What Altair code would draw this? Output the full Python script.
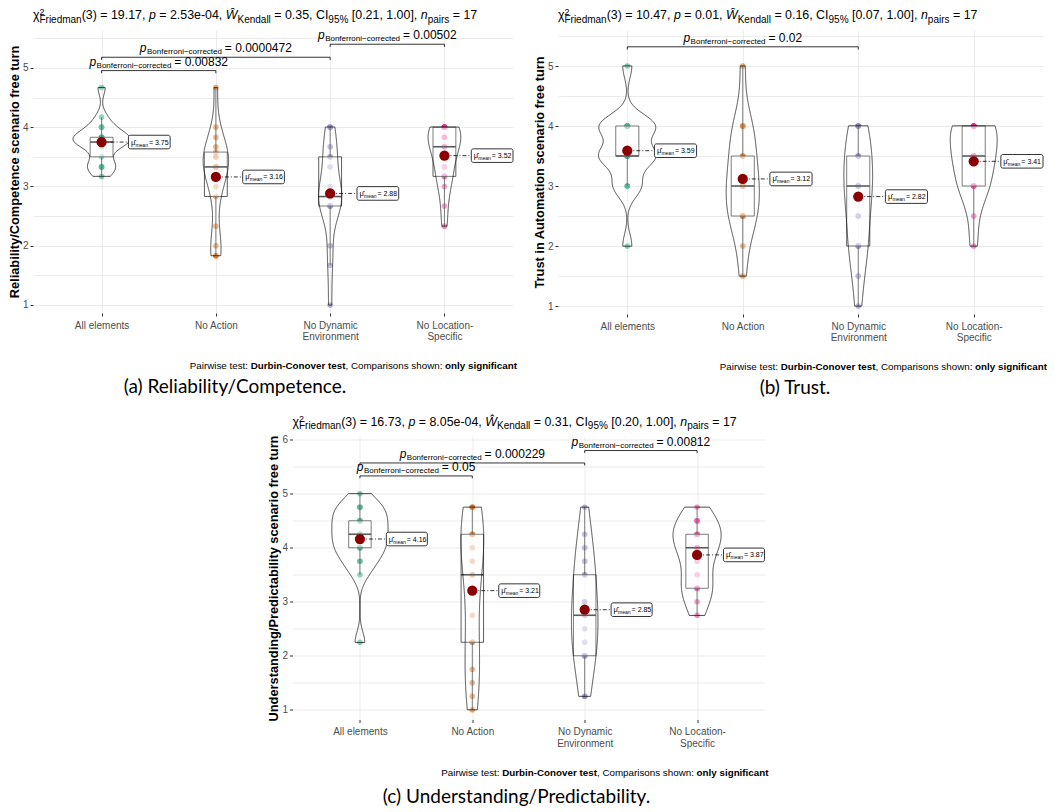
import json
import altair as alt
import pandas as pd

FONT = "Liberation Sans"
CAP_FONT = "Lato"

CATS = ["All elements", "No Action", "No Dynamic\nEnvironment", "No Location-\nSpecific"]
COLORS = ["#1B9E77", "#D95F02", "#7570B3", "#E7298A"]
SUBTXT = "Bonferroni\u2212corrected"

# ---- panel (a) Reliability/Competence ----
A_ALL = [3.17, 3.33, 3.33, 3.33, 3.5, 3.67, 3.75, 3.75, 3.75, 3.83, 3.83, 3.83, 3.83, 4.0, 4.0, 4.17, 4.67]
A_ACTION = [1.83, 1.83, 2.0, 2.33, 2.83, 3.0, 3.17, 3.33, 3.33, 3.33, 3.5, 3.5, 3.58, 3.67, 3.83, 4.0, 4.67]
A_DYN = [1.0, 1.67, 2.0, 2.67, 2.67, 2.67, 2.83, 2.83, 2.83, 2.83, 3.0, 3.33, 3.5, 3.5, 3.67, 4.0, 4.0]
A_LOC = [2.33, 2.67, 3.0, 3.17, 3.17, 3.33, 3.5, 3.67, 3.67, 3.67, 3.83, 3.83, 4.0, 4.0, 4.0, 4.0, 4.0]
A_STATS = ["19.17", "2.53e-04", "0.35", "[0.21, 1.00]", "17"]
A_PAIRS = [(1, 2), (1, 3), (3, 4)]
A_PVALS = ["0.00832", "0.0000472", "0.00502"]
A_BRY = [4.955, 5.18, 5.40]

# ---- panel (b) Trust ----
B_ALL = [2.0, 3.0, 3.0, 3.0, 3.5, 3.5, 3.5, 3.5, 3.5, 3.5, 4.0, 4.0, 4.0, 4.0, 4.0, 4.0, 5.0]
B_ACTION = [1.5, 2.0, 2.5, 2.5, 2.5, 2.5, 3.0, 3.0, 3.0, 3.0, 3.5, 3.5, 3.5, 4.0, 4.0, 4.0, 5.0]
B_DYN = [1.0, 1.5, 2.0, 2.0, 2.0, 2.5, 2.5, 3.0, 3.0, 3.0, 3.0, 3.5, 3.5, 3.5, 4.0, 4.0, 4.0]
B_LOC = [2.0, 2.5, 3.0, 3.0, 3.0, 3.0, 3.5, 3.5, 3.5, 3.5, 3.5, 4.0, 4.0, 4.0, 4.0, 4.0, 4.0]
B_STATS = ["10.47", "0.01", "0.16", "[0.07, 1.00]", "17"]
B_PAIRS = [(1, 3)]
B_PVALS = ["0.02"]
B_BRY = [5.32]

# ---- panel (c) Understanding/Predictability ----
C_ALL = [2.25, 3.5, 3.75, 3.75, 4.0, 4.0, 4.0, 4.25, 4.25, 4.25, 4.5, 4.5, 4.5, 4.75, 4.75, 4.75, 5.0]
C_ACTION = [1.0, 1.25, 1.5, 1.75, 2.25, 2.25, 2.75, 3.5, 3.5, 3.75, 4.0, 4.25, 4.25, 4.25, 4.75, 4.75, 4.75]
C_DYN = [1.25, 1.25, 2.0, 2.0, 2.0, 2.25, 2.5, 2.75, 2.75, 3.0, 3.0, 3.5, 3.5, 3.75, 4.0, 4.25, 4.75]
C_LOC = [2.75, 3.0, 3.25, 3.25, 3.25, 3.5, 3.75, 4.0, 4.0, 4.0, 4.25, 4.25, 4.25, 4.5, 4.5, 4.5, 4.75]
C_STATS = ["16.73", "8.05e-04", "0.31", "[0.20, 1.00]", "17"]
C_PAIRS = [(1, 2), (1, 3), (3, 4)]
C_PVALS = ["0.05", "0.000229", "0.00812"]
C_BRY = [5.33, 5.57, 5.80]

# ---- approximate Arial / Liberation Sans advance widths (per 1000 em) ----
REG = {" ": 278, "!": 278, "%": 889, "(": 333, ")": 333, ",": 278, "-": 333, ".": 278, "/": 278,
       ":": 278, "=": 584, "[": 278, "]": 278, "\u2212": 584, "\u03c7": 520, "\u0174": 944}
for d in "0123456789":
    REG[d] = 556
REG.update(dict(zip("ABCDEFGHIJKLMNOPQRSTUVWXYZ",
                    [667, 667, 722, 722, 667, 611, 778, 722, 278, 500, 667, 556, 833, 722, 778, 667, 778, 722, 667, 611, 722, 667, 944, 667, 667, 611])))
REG.update(dict(zip("abcdefghijklmnopqrstuvwxyz",
                    [556, 556, 500, 556, 556, 278, 556, 556, 222, 222, 500, 222, 833, 556, 556, 556, 556, 333, 500, 278, 556, 500, 722, 500, 500, 500])))
BOLD = dict(REG)
BOLD.update(dict(zip("abcdefghijklmnopqrstuvwxyz",
                     [556, 611, 556, 611, 556, 333, 611, 611, 278, 278, 556, 278, 889, 611, 611, 611, 611, 389, 556, 333, 611, 556, 778, 556, 556, 500])))
BOLD.update({"B": 722, ":": 333})


def tw(s, size, bold=False):
    t = BOLD if bold else REG
    return sum(t.get(ch, 556) for ch in s) * size / 1000.0


def seg_rows(segs, x0, y0):
    rows = []
    x = x0
    for text, size, style, dy, adv in segs:
        lead = len(text) - len(text.lstrip(" "))
        rows.append(dict(t=text.strip(), px=x + tw(" " * lead, size, style == "b"),
                         py=y0 + dy, sz=size, st=style))
        if adv:
            x += tw(text, size, style == "b")
    return rows


def panel(vals, ytitle, stats, pairs, pvals, bry, width, height, ydom, ytop, caption, cap_x, cap_dy):
    rows = []
    for i, vs in enumerate(vals):
        for v in vs:
            rows.append({"idx": i + 1, "v": v})
    df = pd.DataFrame(rows)
    pxu = width / 4.2
    pyu = height / (ydom[1] - ydom[0])

    cats_js = json.dumps(CATS)
    xs = alt.Scale(domain=[0.4, 4.6], nice=False, zero=False)
    ys = alt.Scale(domain=ydom, nice=False, zero=False)
    xaxis = alt.Axis(values=[1, 2, 3, 4], title=None,
                     labelExpr=f"split({cats_js}[datum.value - 1], '\\n')",
                     labelPadding=4, labelLineHeight=11.5)
    yvals = [1 + 0.5 * k for k in range(int(round((ytop - 1) / 0.5)) + 1)]
    yaxis = alt.Axis(values=yvals, title=ytitle,
                     labelExpr="datum.value % 1 === 0 ? format(datum.value, 'd') : ''",
                     tickColor=alt.condition("datum.value % 1 !== 0", alt.value("transparent"), alt.value("#333333")),
                     titlePadding=1)

    def XQ(f):
        return alt.X(f"{f}:Q", scale=xs, axis=xaxis)

    def YQ(f):
        return alt.Y(f"{f}:Q", scale=ys, axis=yaxis)

    base = alt.Chart(df)

    points = base.mark_circle(size=32, opacity=0.55).encode(
        x=XQ("idx"), y=YQ("v"),
        color=alt.Color("idx:N", scale=alt.Scale(domain=[1, 2, 3, 4], range=COLORS), legend=None))

    wk = base.transform_joinaggregate(q1="q1(v)", q3="q3(v)", groupby=["idx"]).transform_filter(
        "datum.v >= datum.q1 - 1.5*(datum.q3 - datum.q1) && datum.v <= datum.q3 + 1.5*(datum.q3 - datum.q1)"
    ).transform_aggregate(lo="min(v)", hi="max(v)", bq1="min(q1)", bq3="min(q3)", groupby=["idx"])
    w1 = wk.mark_rule(color="#333333", strokeWidth=0.8).encode(x=XQ("idx"), y=YQ("lo"), y2=alt.Y2("bq1"))
    w2 = wk.mark_rule(color="#333333", strokeWidth=0.8).encode(x=XQ("idx"), y=YQ("bq3"), y2=alt.Y2("hi"))

    bx = base.transform_aggregate(q1="q1(v)", q3="q3(v)", med="median(v)", groupby=["idx"]).transform_calculate(
        bl="datum.idx - 0.1", br="datum.idx + 0.1")
    box = bx.mark_rect(fill="white", fillOpacity=0.5, stroke="#333333", strokeWidth=0.8).encode(
        x=XQ("bl"), x2=alt.X2("br"), y=YQ("q1"), y2=alt.Y2("q3"))
    med = bx.mark_rule(color="#333333", strokeWidth=1.6).encode(x=XQ("bl"), x2=alt.X2("br"), y=YQ("med"))

    vio = base.transform_calculate(rep="[0, 1]").transform_flatten(["rep"]).transform_joinaggregate(
        vmin="min(v)", vmax="max(v)", groupby=["idx"]
    ).transform_density(
        "v", groupby=["idx", "vmin", "vmax"], extent=[0.5, 6.0], steps=661, as_=["yy", "dens"]
    ).transform_filter(
        "datum.yy >= datum.vmin - 0.004 && datum.yy <= datum.vmax + 0.004"
    ).transform_joinaggregate(dmax="max(dens)").transform_calculate(
        xl="datum.idx - 0.25*datum.dens/datum.dmax", xr="datum.idx + 0.25*datum.dens/datum.dmax"
    ).mark_area(orient="horizontal", fill="white", fillOpacity=0.2, stroke="black", strokeWidth=0.7).encode(
        y=YQ("yy"), x=XQ("xl"), x2=alt.X2("xr"), detail="idx:N")

    hh = 6.8 / pyu
    mn = base.transform_aggregate(m="mean(v)", groupby=["idx"]).transform_calculate(
        cx="datum.idx + 0.235", rx="datum.idx + 0.6",
        ylo=f"datum.m - {hh}", yhi=f"datum.m + {hh}",
        lab="'= ' + format(datum.m, '.2f')")
    conn = mn.mark_rule(color="black", strokeWidth=0.8, strokeDash=[4, 2, 1, 2]).encode(
        x=XQ("idx"), x2=alt.X2("cx"), y=YQ("m"))
    mpt = mn.mark_circle(size=105, color="#8B0000", opacity=1).encode(x=XQ("idx"), y=YQ("m"))
    lbox = mn.mark_rect(fill="white", stroke="black", strokeWidth=0.8, cornerRadius=2).encode(
        x=XQ("cx"), x2=alt.X2("rx"), y=YQ("ylo"), y2=alt.Y2("yhi"))
    mu = mn.mark_text(align="left", baseline="middle", font=FONT, fontSize=7.5, dx=2.5, dy=0.5,
                      text="\u03bc\u0302", color="black").encode(x=XQ("cx"), y=YQ("m"))
    musub = mn.mark_text(align="left", baseline="middle", font=FONT, fontSize=5, dx=7, dy=2.5,
                         text="mean", color="black").encode(x=XQ("cx"), y=YQ("m"))
    mueq = mn.mark_text(align="left", baseline="middle", font=FONT, fontSize=7, dx=20.5, dy=0.5,
                        color="black").encode(x=XQ("cx"), y=YQ("m"), text="lab:N")

    # significance brackets
    tip = 0.045
    brows = []
    for (a, b), pv, y in zip(pairs, pvals, bry):
        xm = (a + b) / 2.0
        wp = tw("p", 12)
        ws = tw(SUBTXT, 8)
        we = tw(" = " + pv, 12)
        start = -(wp + ws + we) / 2.0
        brows.append(dict(xa=a, xb=b, y=y, yt=y - tip, eq="= " + pv,
                          xp=xm + start / pxu,
                          xs=xm + (start + wp + 0.5) / pxu,
                          xe=xm + (start + wp + ws + tw(" ", 12)) / pxu))
    bdf = pd.DataFrame(brows)
    bc = alt.Chart(bdf)
    bh = bc.mark_rule(color="black", strokeWidth=0.8).encode(x=XQ("xa"), x2=alt.X2("xb"), y=YQ("y"))
    bl = bc.mark_rule(color="black", strokeWidth=0.8).encode(x=XQ("xa"), y=YQ("yt"), y2=alt.Y2("y"))
    br = bc.mark_rule(color="black", strokeWidth=0.8).encode(x=XQ("xb"), y=YQ("yt"), y2=alt.Y2("y"))
    btp = bc.mark_text(align="left", baseline="alphabetic", font=FONT, fontStyle="italic", fontSize=12,
                       dy=-5, text="p", color="black").encode(x=XQ("xp"), y=YQ("y"))
    bts = bc.mark_text(align="left", baseline="alphabetic", font=FONT, fontSize=8,
                       dy=-3, text=SUBTXT, color="black").encode(x=XQ("xs"), y=YQ("y"))
    bte = bc.mark_text(align="left", baseline="alphabetic", font=FONT, fontSize=12,
                       dy=-5, color="black").encode(x=XQ("xe"), y=YQ("y"), text="eq:N")

    # title / footer / caption texts (pixel positions relative to the plot area)
    chi, p, w, ci, n = stats
    M, S = 12.4, 10
    tsegs = [("\u03c7", M, "n", 0, True), ("2", 9, "n", -4, False), ("Friedman", S, "n", 3.5, True),
             ("(3) = " + chi + ", ", M, "n", 0, True), ("p", M, "i", 0, True),
             (" = " + p + ", ", M, "n", 0, True), ("\u0174", M, "i", 0, True), ("Kendall", S, "n", 3.5, True),
             (" = " + w + ", CI", M, "n", 0, True), ("95%", S, "n", 3.5, True),
             (" " + ci + ", ", M, "n", 0, True), ("n", M, "i", 0, True), ("pairs", S, "n", 3.5, True),
             (" = " + n, M, "n", 0, True)]
    trows = seg_rows(tsegs, 0, -11)
    F = 9.8
    fsegs = [("Pairwise test: ", F, "n", 0, True), ("Durbin-Conover test", F, "b", 0, True),
             (", Comparisons shown: ", F, "n", 0, True), ("only significant", F, "b", 0, True)]
    ftot = sum(tw(s, sz, st == "b") for s, sz, st, _, _ in fsegs)
    trows += seg_rows(fsegs, width + 4 - ftot, height + 56)
    trows.append(dict(t=caption, px=cap_x, py=height + cap_dy, sz=19, st="cap"))
    tdf = pd.DataFrame(trows)

    def tlayer(style, **mk):
        return alt.Chart(tdf).transform_filter(alt.datum.st == style).mark_text(
            baseline="alphabetic", color="black", **mk).encode(
            x=alt.X("px:Q", scale=None, axis=None), y=alt.Y("py:Q", scale=None, axis=None),
            text="t:N", size=alt.Size("sz:Q", scale=None, legend=None))

    tn = tlayer("n", align="left", font=FONT)
    ti = tlayer("i", align="left", font=FONT, fontStyle="italic")
    tb = tlayer("b", align="left", font=FONT, fontWeight="bold")
    tc = tlayer("cap", align="center", font=CAP_FONT)

    return alt.layer(points, w1, w2, box, med, vio, conn, mpt, lbox, mu, musub, mueq,
                     bh, bl, br, btp, bts, bte, tn, ti, tb, tc).properties(width=width, height=height)


pa = panel([A_ALL, A_ACTION, A_DYN, A_LOC], "Reliability/Competence scenario free turn", A_STATS,
           A_PAIRS, A_PVALS, A_BRY, 480, 283, [0.865, 5.64], 5.5, "(a) Reliability/Competence.", 202, 80)
pb = panel([B_ALL, B_ACTION, B_DYN, B_LOC], "Trust in Automation scenario free turn", B_STATS,
           B_PAIRS, B_PVALS, B_BRY, 485, 284, [0.867, 5.6], 5.5, "(b) Trust.", 237, 80)
pc = panel([C_ALL, C_ACTION, C_DYN, C_LOC], "Understanding/Predictability scenario free turn", C_STATS,
           C_PAIRS, C_PVALS, C_BRY, 472, 283, [0.82, 6.06], 6.0, "(c) Understanding/Predictability.", 224, 83)

spacer = alt.Chart(pd.DataFrame({"s": [0]})).mark_point(opacity=0).encode(
    x=alt.value(0), y=alt.value(0)).properties(width=200, height=10)

row1 = alt.hconcat(pa, pb, spacing=16)
row2 = alt.hconcat(spacer, pc, spacing=34.5)

chart = alt.vconcat(row1, row2, spacing=16.5).properties(
    padding={"left": 0, "top": 0, "right": 0, "bottom": 0}
).configure_view(stroke=None).configure_axis(
    domain=False, grid=True, gridColor="#EBEBEB", gridWidth=1,
    tickColor="#333333", tickSize=3, labelColor="#4D4D4D", labelFont=FONT, labelFontSize=10,
    labelPadding=2, titleFont=FONT, titleFontSize=12.8, titleFontWeight="bold", titleColor="black"
)

chart.save("out.html", embed_options={"renderer": "svg", "actions": False})
